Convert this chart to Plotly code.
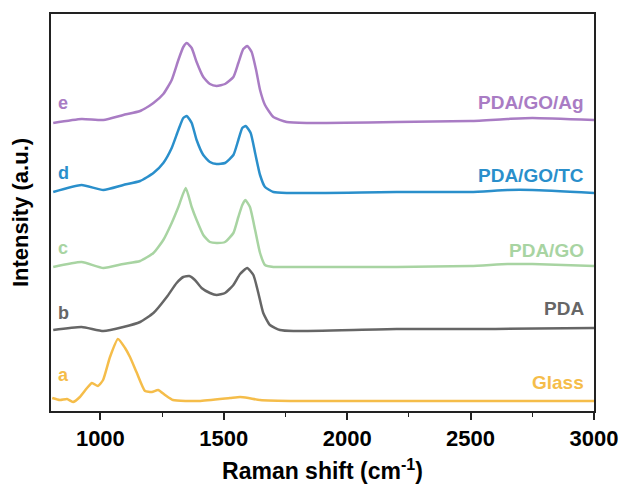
import plotly.graph_objects as go

# Raman shift (cm-1) and intensity (a.u., stacked offsets as drawn)
x_e = [809, 924, 1012, 1093, 1161, 1215, 1255, 1289, 1316, 1336, 1350, 1370, 1390, 1417, 1444, 1471, 1505, 1539, 1559, 1579, 1595, 1613, 1631, 1647, 1667, 1701, 1755, 1836, 2200, 2500, 2650, 2750, 3000]
y_e = [288, 292, 291, 296, 300, 308, 317, 331, 351, 364, 368, 363, 349, 334, 327, 325, 327, 334, 348, 362, 365, 359, 341, 321, 306, 294, 289, 288, 289, 290, 292, 293, 291]

x_d = [809, 924, 1012, 1093, 1161, 1215, 1255, 1289, 1316, 1336, 1350, 1370, 1390, 1417, 1444, 1471, 1505, 1539, 1559, 1575, 1589, 1609, 1627, 1647, 1667, 1701, 1755, 2200, 2500, 2650, 2750, 3000]
y_d = [219, 226, 221, 226, 230, 238, 248, 263, 281, 293, 295, 288, 271, 256, 249, 247, 248, 256, 271, 283, 285, 278, 258, 236, 224, 219, 218, 219, 219, 221, 221, 218]

x_c = [809, 924, 1012, 1093, 1161, 1215, 1255, 1289, 1316, 1346, 1370, 1390, 1417, 1444, 1471, 1505, 1539, 1559, 1575, 1587, 1606, 1627, 1647, 1667, 1701, 1755, 2200, 2500, 2650, 2750, 3000]
y_c = [144, 149, 143, 147, 150, 158, 171, 188, 204, 223, 204, 191, 176, 169, 168, 169, 178, 194, 206, 211, 204, 181, 158, 146, 144, 144, 144, 145, 147, 147, 145]

x_b = [809, 924, 1012, 1093, 1161, 1215, 1269, 1309, 1336, 1360, 1383, 1410, 1444, 1471, 1505, 1539, 1566, 1595, 1620, 1640, 1660, 1687, 1728, 1782, 2200, 2600, 3000]
y_b = [81, 84, 80, 84, 89, 98, 114, 128, 134, 135, 131, 123, 118, 116, 118, 126, 137, 143, 136, 118, 98, 86, 81, 80, 82, 82, 83]

x_a = [805, 836, 865, 889, 917, 946, 966, 990, 1011, 1039, 1071, 1100, 1120, 1148, 1181, 1209, 1234, 1262, 1294, 1400, 1525, 1566, 1600, 1647, 1800, 2200, 2600, 3000]
y_a = [13, 11, 12, 9, 14, 23, 28, 25, 31, 54, 72, 63, 54, 38, 20, 19, 21, 16, 11, 10, 13, 14, 13, 11, 10, 10, 10, 10]

series_x = [x_a, x_b, x_c, x_d, x_e]
series_y = [y_a, y_b, y_c, y_d, y_e]
letters = ["a", "b", "c", "d", "e"]
names = ["Glass", "PDA", "PDA/GO", "PDA/GO/TC", "PDA/GO/Ag"]
colors = ["#f5bd4a", "#666666", "#a8d4a2", "#2a8fcb", "#a97cc4"]
letter_y = [36, 98, 163, 238, 308]
name_y = [29, 103, 161, 236, 309]

fig = go.Figure()
for xs, ys, c, n in zip(series_x, series_y, colors, names):
    fig.add_trace(go.Scatter(x=xs, y=ys, mode="lines", name=n,
                             line=dict(color=c, width=2.5, shape="spline", smoothing=0.5)))

font = "Liberation Sans, Arial, sans-serif"
for i in range(5):
    fig.add_annotation(x=822, y=letter_y[i], text=letters[i], showarrow=False,
                       xanchor="left", yanchor="middle",
                       font=dict(family=font, size=18, color=colors[i], weight="bold"))
    fig.add_annotation(x=2966, y=name_y[i], text=names[i], showarrow=False,
                       xanchor="right", yanchor="middle",
                       font=dict(family=font, size=19, color=colors[i], weight="bold"))

fig.update_layout(
    width=620, height=489,
    margin=dict(l=51, r=26, t=14, b=78),
    paper_bgcolor="white", plot_bgcolor="white",
    showlegend=False,
    font=dict(family=font, color="black"),
)
fig.update_xaxes(
    range=[800, 3000], tickvals=[1000, 1500, 2000, 2500, 3000],
    ticks="outside", ticklen=7, tickwidth=1.5, tickcolor="#222",
    minor=dict(tickvals=[1250, 1750, 2250, 2750], ticks="outside", ticklen=4, tickwidth=1.2, tickcolor="#222"),
    showline=True, linecolor="#222", linewidth=1.8, mirror=True, showgrid=False, zeroline=False,
    tickfont=dict(family=font, size=22, color="black", weight="bold"),
    ticklabeloverflow="allow",
    automargin=False,
    title=dict(text="Raman shift (cm<sup>-1</sup>)", font=dict(family=font, size=23, color="black", weight="bold"), standoff=13),
)
fig.update_yaxes(
    range=[0, 397], showticklabels=False, ticks="",
    showline=True, linecolor="#222", linewidth=1.8, mirror=True, showgrid=False, zeroline=False,
    automargin=False,
    title=dict(text="Intensity (a.u.)", font=dict(family=font, size=22, color="black", weight="bold"), standoff=14),
)

fig.write_html("out.html", config={"displayModeBar": False},
               post_script="document.body.style.margin='0';document.body.style.overflow='hidden';")
